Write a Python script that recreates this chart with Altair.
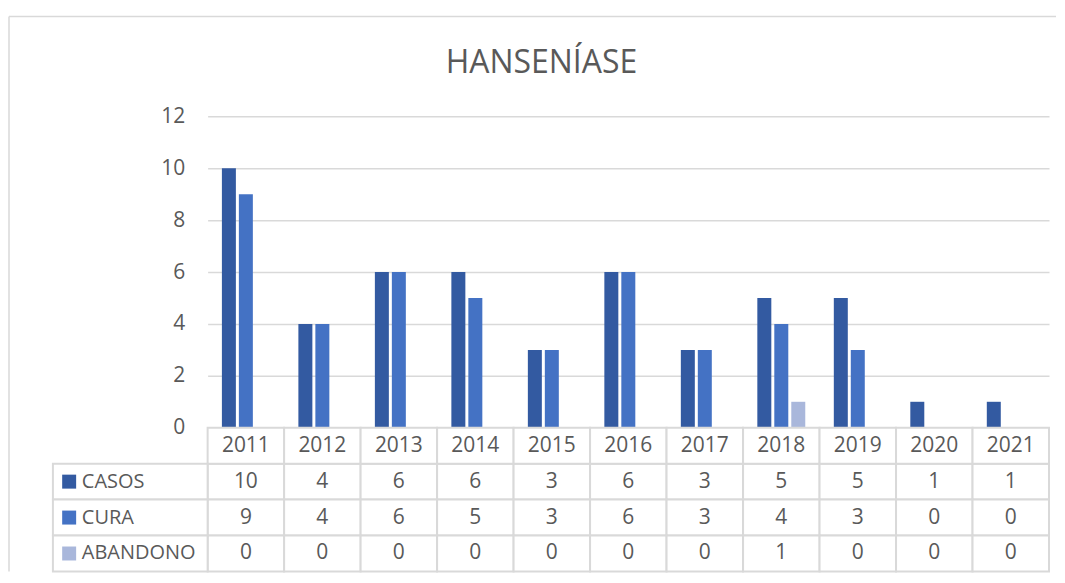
import altair as alt
import pandas as pd

# ---- data ----
years = ["2011", "2012", "2013", "2014", "2015", "2016", "2017", "2018", "2019", "2020", "2021"]
series = ["CASOS", "CURA", "ABANDONO"]
casos = [10, 4, 6, 6, 3, 6, 3, 5, 5, 1, 1]
cura = [9, 4, 6, 5, 3, 6, 3, 4, 3, 0, 0]
abandono = [0, 0, 0, 0, 0, 0, 0, 1, 0, 0, 0]
colors = ["#335AA1", "#4472C4", "#A9B7DB"]
y_ticks = [0, 2, 4, 6, 8, 10, 12]
chart_title = "HANSENÍASE"

rows = []
for s, vals in zip(series, [casos, cura, abandono]):
    for yr, v in zip(years, vals):
        rows.append({"year": yr, "series": s, "value": v, "row": s, "label": str(v)})
df = pd.DataFrame(rows)
header_df = pd.DataFrame({"year": years, "row": ["header"] * len(years), "label": years})
legend_df = pd.DataFrame({"col": ["leg"] * len(series), "row": series, "series": series})
frame_df = pd.DataFrame({"k": [0]})

# ---- layout / style ----
W = 843
BAR_H = 312
ROW_H = 36
H = BAR_H + ROW_H * 4
FONT = "Open Sans"
TXT = "#595959"
GRID = "#D9D9D9"
FS = 21
FS_LEG = 20

xscale = alt.Scale(domain=years, paddingInner=0, paddingOuter=0)
row_scale = alt.Scale(domain=["header"] + series, range=[BAR_H, H], paddingInner=0, paddingOuter=0)
color_scale = alt.Scale(domain=series, range=colors)
leg_scale = alt.Scale(domain=["leg"], range=[-155, 0], paddingInner=0, paddingOuter=0)

bars = alt.Chart(df).mark_bar().encode(
    x=alt.X("year:N", scale=xscale, axis=None),
    xOffset=alt.XOffset("series:N", scale=alt.Scale(domain=series, paddingInner=0.176, paddingOuter=0.841)),
    y=alt.Y(
        "value:Q",
        scale=alt.Scale(domain=[0, 12], range=[BAR_H, 0], nice=False, zero=True),
        axis=alt.Axis(
            values=y_ticks, title=None, domain=False, ticks=False, labelPadding=23,
            labelFont=FONT, labelFontSize=FS, labelColor=TXT,
            grid=True, gridColor=GRID, gridWidth=1.5,
        ),
    ),
    color=alt.Color("series:N", scale=color_scale, legend=None),
)

tx = alt.X("year:N", scale=xscale, axis=None)
ty = alt.Y("row:N", scale=row_scale, axis=None)

cell_rect = alt.Chart(df).mark_rect(fill="white", stroke=GRID, strokeWidth=2).encode(x=tx, y=ty)
cell_text = alt.Chart(df).mark_text(font=FONT, fontSize=FS, color=TXT, baseline="middle").encode(
    x=tx, y=ty, text="label:N")
head_rect = alt.Chart(header_df).mark_rect(fill="white", stroke=GRID, strokeWidth=2).encode(x=tx, y=ty)
head_text = alt.Chart(header_df).mark_text(font=FONT, fontSize=FS, color=TXT, baseline="middle").encode(
    x=tx, y=ty, text="label:N")
table = alt.layer(cell_rect, head_rect, cell_text, head_text)

leg_rect = alt.Chart(legend_df).mark_rect(fill="white", stroke=GRID, strokeWidth=2).encode(
    x=alt.X("col:N", scale=leg_scale, axis=None), y=ty)
leg_sq = alt.Chart(legend_df).mark_square(size=196, opacity=1).encode(
    x=alt.X("col:N", scale=leg_scale, axis=None, bandPosition=0.105), y=ty,
    color=alt.Color("series:N", scale=color_scale, legend=None))
leg_text = alt.Chart(legend_df).mark_text(font=FONT, fontSize=FS_LEG, color=TXT, align="left",
                                          baseline="middle", dx=29).encode(
    x=alt.X("col:N", scale=leg_scale, axis=None, bandPosition=0), y=ty, text="row:N")
legend = alt.layer(leg_rect, leg_sq, leg_text)

vframe = alt.Chart(frame_df).mark_rule(color=GRID, strokeWidth=1.5).encode(
    x=alt.value(-199), y=alt.value(-100), y2=alt.value(H))
hframe = alt.Chart(frame_df).mark_rule(color=GRID, strokeWidth=1.5).encode(
    x=alt.value(-199), x2=alt.value(850), y=alt.value(-100))

chart = alt.layer(vframe, hframe, bars, table, legend).resolve_scale(
    x="independent", y="independent"
).properties(
    width=W, height=H,
    padding={"left": 0, "top": 7, "right": 0, "bottom": 0},
    title=alt.Title(chart_title, font=FONT, fontSize=32, color=TXT, fontWeight="normal",
                    anchor="middle", frame="bounds", dy=64, dx=9, offset=0),
).configure(background="white").configure_view(stroke="transparent", strokeWidth=0)

chart.save("out.html", embed_options={"renderer": "svg", "actions": False})
